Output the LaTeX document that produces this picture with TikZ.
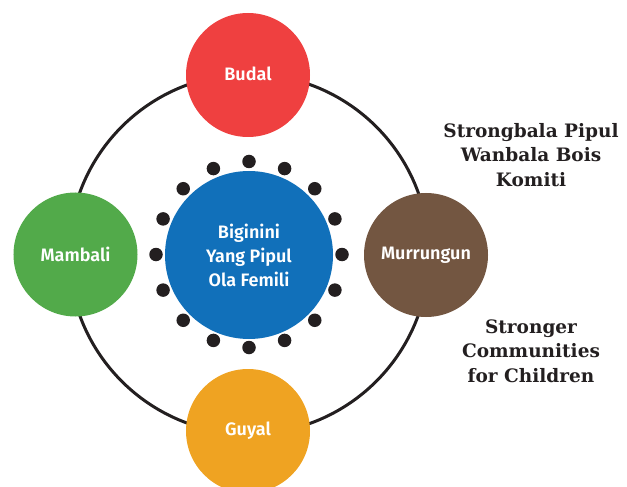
\documentclass[tikz,border=0pt]{standalone}
\usepackage{fontspec}
\usetikzlibrary{calc}
\newfontfamily\labfont{Fira Sans}[UprightFont=* Medium, BoldFont=* SemiBold]
\newfontfamily\slabfont{DejaVu Serif}
\definecolor{cred}{HTML}{EF4040}
\definecolor{cgreen}{HTML}{52AA4A}
\definecolor{cbrown}{HTML}{735641}
\definecolor{corange}{HTML}{EFA322}
\definecolor{cblue}{HTML}{1170BA}
\definecolor{cink}{HTML}{231F20}
\begin{document}
\begin{tikzpicture}[x=1bp,y=-1bp,
  outer/.style={circle, minimum size=124bp, inner sep=0pt, text=white,
     font=\labfont\fontsize{18bp}{20bp}\selectfont\bfseries},
  inner/.style={circle, minimum size=168bp, inner sep=0pt, fill=cblue, text=white,
     align=center, font=\labfont\fontsize{18bp}{24bp}\selectfont\bfseries},
  pdot/.style={circle, fill=cink, minimum size=13.5bp, inner sep=0pt},
  side/.style={align=center, text=cink,
     font=\slabfont\fontsize{18.5bp}{24.5bp}\selectfont\bfseries}]
\useasboundingbox (0,0) rectangle (627,487);
\coordinate (c) at (249,254);
\draw[cink, line width=3bp] (c) circle[radius=180bp];
\node[outer, fill=cred] (budal) at (248,75) {\raisebox{2bp}{Budal}};
\node[outer, fill=cgreen] (mambali) at (75.5,254.5) {Mambali};
\node[outer, fill=cbrown] (murrungun) at (426,255) {Murrungun};
\node[outer, fill=corange] (guyal) at (248,431) {Guyal};
\node[inner] (centre) at (249,255) {Biginini\\Yang Pipul\\Ola Femili};
\foreach \i in {0,...,15}{
  \node[pdot] (d\i) at ($(249,254.5)+(\i*22.5:93bp)$) {};
}
\node[side] (t1) at (531,155) {Strongbala Pipul\\Wanbala Bois\\Komiti};
\node[side] (t2) at (531,351) {Stronger\\Communities\\for Children};
\end{tikzpicture}
\end{document}
